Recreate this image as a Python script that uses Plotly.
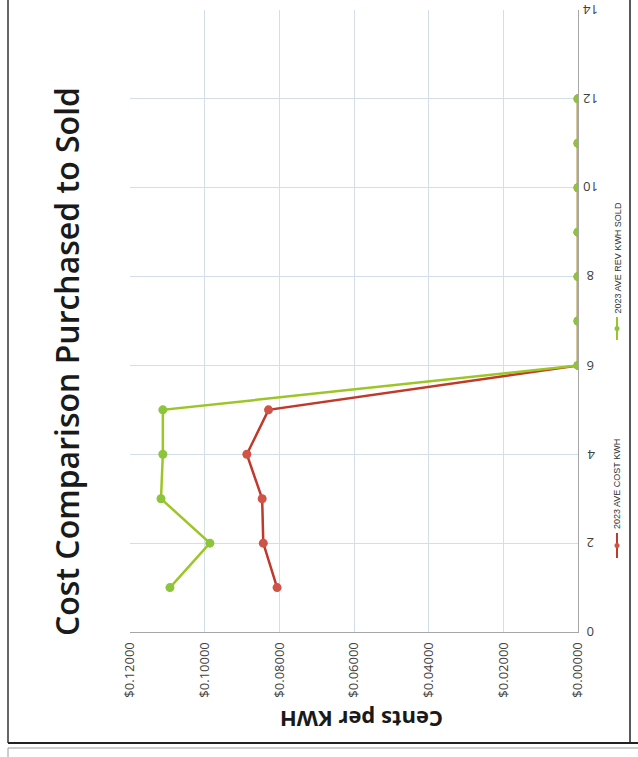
import plotly.graph_objects as go

# Monthly index (1..12) and per-kWh values for 2023
months = [1, 2, 3, 4, 5, 6, 7, 8, 9, 10, 11, 12]
ave_cost_kwh = [0.0806, 0.0843, 0.0846, 0.0887, 0.0829, 0, 0, 0, 0, 0, 0, 0]
ave_rev_kwh_sold = [0.1093, 0.0986, 0.1117, 0.1112, 0.1112, 0, 0, 0, 0, 0, 0, 0]

value_ticks = [0.0, 0.02, 0.04, 0.06, 0.08, 0.10, 0.12]
month_ticks = [0, 2, 4, 6, 8, 10, 12, 14]

series_names = ["2023 AVE COST KWH", "2023 AVE REV KWH SOLD"]
red_line, red_marker = "#c0392b", "#cf5346"
green_line, green_marker = "#9cc626", "#8cc43c"

W, H = 638, 757
L, R, T, B = 130, 60, 10, 125
pw, ph = W - L - R, H - T - B


def px(xp):
    return (xp - L) / pw


def py(yp):
    return (H - B - yp) / ph


fig = go.Figure()
fig.add_trace(go.Scatter(
    x=ave_cost_kwh, y=months, mode="lines+markers", name=series_names[0],
    line=dict(color=red_line, width=2.5),
    marker=dict(color=red_marker, size=9),
))
fig.add_trace(go.Scatter(
    x=ave_rev_kwh_sold, y=months, mode="lines+markers", name=series_names[1],
    line=dict(color=green_line, width=2.5),
    marker=dict(color=green_marker, size=9),
))

grid = "#d3deea"
fig.update_xaxes(
    range=[0.12, 0], tickvals=value_ticks, tickformat="$.5f", tickangle=-90,
    showgrid=True, gridcolor=grid, gridwidth=1, zeroline=False,
    showline=True, linecolor="#a6a6a6", mirror=False,
    tickfont=dict(family="Open Sans", size=13, color="#404040"),
    ticks="", ticklen=0, ticklabelstandoff=4,
)
fig.update_yaxes(
    range=[0, 14], tickvals=month_ticks, side="right", showticklabels=False,
    showgrid=True, gridcolor=grid, gridwidth=1, zeroline=False,
    showline=True, linecolor="#a6a6a6",
    ticks="", ticklen=0,
)

annotations = [
    dict(text="Cost Comparison Purchased to Sold", x=px(66), y=py(362),
         xref="paper", yref="paper", showarrow=False, textangle=-90,
         font=dict(family="Open Sans", size=32, color="#1a1a1a", weight=600),
         xanchor="center", yanchor="middle"),
    dict(text="Cents per KWH", x=px(362), y=py(720),
         xref="paper", yref="paper", showarrow=False, textangle=180,
         font=dict(family="Open Sans", size=22, color="#1a1a1a", weight=700),
         xanchor="center", yanchor="middle"),
    dict(text=series_names[0], x=px(617), y=py(531),
         xref="paper", yref="paper", showarrow=False, textangle=-90,
         font=dict(family="Liberation Sans", size=9, color="#333333"),
         xanchor="center", yanchor="bottom"),
    dict(text=series_names[1], x=px(617), y=py(316),
         xref="paper", yref="paper", showarrow=False, textangle=-90,
         font=dict(family="Liberation Sans", size=9, color="#333333"),
         xanchor="center", yanchor="bottom"),
]

# month labels on the right-hand axis, drawn upside down
for m in month_ticks:
    annotations.append(dict(
        text=str(m), x=px(591), y=m, xref="paper", yref="y",
        showarrow=False, textangle=180,
        font=dict(family="Open Sans", size=13, color="#404040"),
        xanchor="center", yanchor="middle",
    ))

shapes = [
    # page frame
    dict(type="line", xref="paper", yref="paper", x0=px(8), x1=px(8), y0=py(0), y1=py(743),
         line=dict(color="#333333", width=1.5)),
    dict(type="line", xref="paper", yref="paper", x0=px(630), x1=px(630), y0=py(0), y1=py(743),
         line=dict(color="#222222", width=1.5)),
    dict(type="line", xref="paper", yref="paper", x0=px(8), x1=px(638), y0=py(743), y1=py(743),
         line=dict(color="#222222", width=2)),
    dict(type="line", xref="paper", yref="paper", x0=px(8), x1=px(638), y0=py(748), y1=py(748),
         line=dict(color="#9a9a9a", width=1)),
    dict(type="line", xref="paper", yref="paper", x0=px(8), x1=px(8), y0=py(748), y1=py(757),
         line=dict(color="#9a9a9a", width=1)),
    # legend keys
    dict(type="line", xref="paper", yref="paper", x0=px(617), x1=px(617), y0=py(533), y1=py(558),
         line=dict(color=red_line, width=2)),
    dict(type="circle", xref="paper", yref="paper", x0=px(614.5), x1=px(619.5), y0=py(543), y1=py(548),
         fillcolor=red_marker, line=dict(width=0)),
    dict(type="line", xref="paper", yref="paper", x0=px(617), x1=px(617), y0=py(317), y1=py(340),
         line=dict(color=green_line, width=2)),
    dict(type="circle", xref="paper", yref="paper", x0=px(614.5), x1=px(619.5), y0=py(326), y1=py(331),
         fillcolor=green_marker, line=dict(width=0)),
]

fig.update_layout(
    width=W, height=H,
    margin=dict(l=L, r=R, t=T, b=B),
    paper_bgcolor="white", plot_bgcolor="white",
    showlegend=False,
    annotations=annotations, shapes=shapes,
)

fig.write_html("out.html")
